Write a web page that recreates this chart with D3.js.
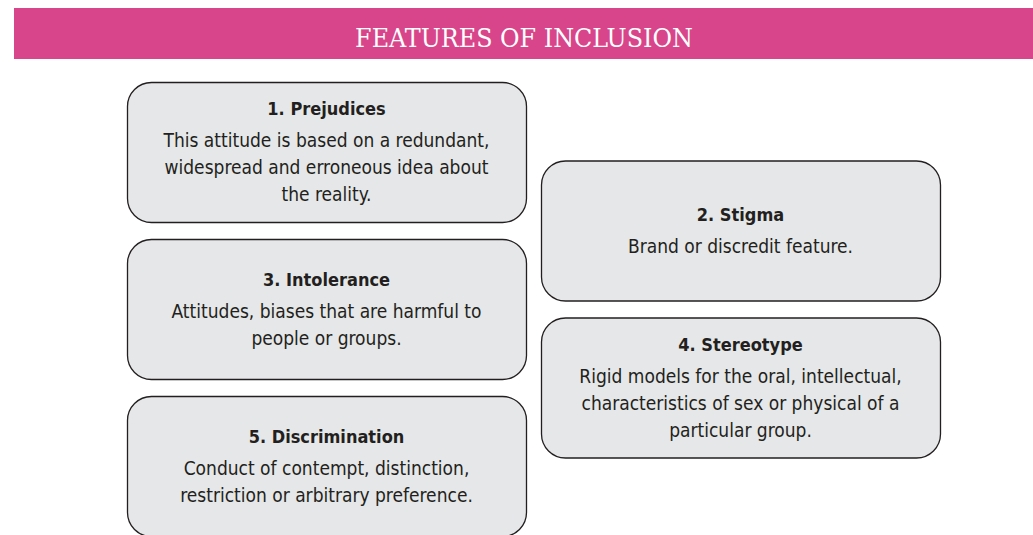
<!DOCTYPE html>
<html>
<head>
<meta charset="utf-8">
<script src="https://cdn.jsdelivr.net/npm/d3@7"></script>
<style>
  body { margin: 0; background: #fff; }
  svg { display: block; }
</style>
</head>
<body>
<svg id="canvas"></svg>
<script>
// diagram content
let heading = "FEATURES OF INCLUSION"
let titles = ["1. Prejudices", "2. Stigma", "3. Intolerance", "4. Stereotype", "5. Discrimination"]
let bodies = [
  ["This attitude is based on a redundant,", "widespread and erroneous idea about", "the reality."],
  ["Brand or discredit  feature."],
  ["Attitudes, biases that are harmful to", "people or groups."],
  ["Rigid models for the oral, intellectual,", "characteristics of sex or physical of a", "particular group."],
  ["Conduct of contempt, distinction,", "restriction or arbitrary preference."]
]

let width = 1033
let height = 535
let boxW = 399
let boxH = 140
let titleGap = 32
let lineGap = 27
let font = "'Liberation Sans Narrow', 'DejaVu Sans Condensed', sans-serif"

let canvas = d3.select("#canvas")
  .attr("width", width)
  .attr("height", height)

// header band
canvas.append("rect")
  .attr("x", 14).attr("y", 8)
  .attr("width", width - 14).attr("height", 51)
  .attr("fill", "#d9458a")

canvas.append("text")
  .attr("x", 524).attr("y", 47)
  .attr("text-anchor", "middle")
  .attr("fill", "#fff")
  .attr("font-family", "'DejaVu Serif Condensed', 'Liberation Serif', serif")
  .attr("font-size", 26.5)
  .text(heading)

// boxes alternate left/right and step down half a box each time
let x = d3.scalePoint().domain([0, 1]).range([127, 541])
let y = d3.scaleLinear().domain([0, 4]).range([82, 396])

let boxes = canvas.selectAll("g.box")
  .data(titles)
  .enter()
  .append("g")
  .attr("class", "box")
  .attr("transform", (d, i) => "translate(" + x(i % 2) + "," + y(i) + ")")

boxes.append("rect")
  .attr("x", 0.5).attr("y", 0.5)
  .attr("width", boxW).attr("height", boxH)
  .attr("rx", 24).attr("ry", 24)
  .attr("fill", "#e6e7e8")
  .attr("stroke", "#231f20")
  .attr("stroke-width", 1.3)

boxes.each(function (d, i) {
  let g = d3.select(this)
  let lines = bodies[i]
  let blockH = titleGap + (lines.length - 1) * lineGap
  let top = boxH / 2 - blockH / 2 + 6
  g.append("text")
    .attr("x", boxW / 2).attr("y", top)
    .attr("text-anchor", "middle")
    .attr("font-family", font)
    .attr("font-weight", "bold")
    .attr("font-size", 18)
    .attr("fill", "#231f20")
    .text(d)
  g.selectAll("text.line")
    .data(lines)
    .enter()
    .append("text")
    .attr("class", "line")
    .attr("x", boxW / 2)
    .attr("y", (t, j) => top + titleGap + j * lineGap)
    .attr("text-anchor", "middle")
    .attr("font-family", font)
    .attr("font-size", 19)
    .attr("fill", "#231f20")
    .text(t => t)
})
</script>
</body>
</html>
